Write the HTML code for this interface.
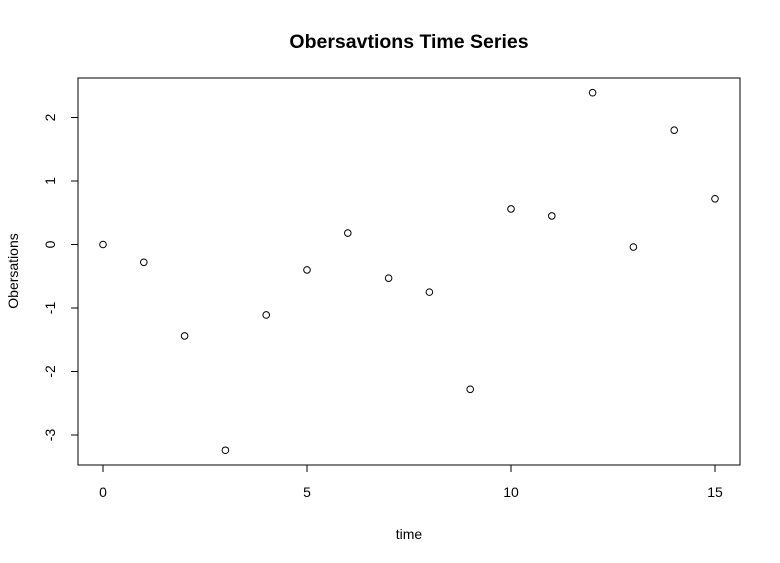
<!DOCTYPE html>
<html><head><meta charset="utf-8"><style>
body{margin:0;background:#fff;}
svg{display:block;font-family:"Liberation Sans",Arial,sans-serif;}
</style></head><body>
<svg id="chart" width="780" height="563">
<text x="409" y="48" text-anchor="middle" font-size="19.5" font-weight="bold">Obersavtions Time Series</text>
<rect x="78" y="78" width="662" height="387" fill="none" stroke="#000" stroke-width="1"/>
<text x="409" y="539" text-anchor="middle" font-size="14">time</text>
<text transform="translate(18,271) rotate(-90)" text-anchor="middle" font-size="14">Obersations</text>
<g id="xaxis"></g>
<g id="yaxis"></g>
<g id="points"></g>
</svg>
<script>
const times=[0,1,2,3,4,5,6,7,8,9,10,11,12,13,14,15];
const values=[0,-0.28,-1.44,-3.24,-1.11,-0.40,0.18,-0.53,-0.75,-2.28,0.56,0.45,2.39,-0.04,1.80,0.72];
const xTicks=[0,5,10,15];
const yTicks=[-3,-2,-1,0,1,2];
const NS="http://www.w3.org/2000/svg";
function xs(v){return 103+v*40.8;}
function ys(v){return 244.5-v*63.5;}
function mk(t,a){const e=document.createElementNS(NS,t);for(const k in a)e.setAttribute(k,a[k]);return e;}
const xg=document.getElementById('xaxis');
xg.appendChild(mk('line',{x1:xs(xTicks[0]),x2:xs(xTicks[xTicks.length-1]),y1:465,y2:465,stroke:'#000'}));
xTicks.forEach(t=>{
  const l=mk('line',{x1:xs(t),x2:xs(t),y1:465,y2:472,stroke:'#000'});
  
  
  xg.appendChild(l);
  const tx=mk('text',{x:xs(t),y:497,'text-anchor':'middle','font-size':14});
  tx.textContent=t;
  
  
  xg.appendChild(tx);
});
const yg=document.getElementById('yaxis');
yg.appendChild(mk('line',{x1:78,x2:78,y1:ys(yTicks[0]),y2:ys(yTicks[yTicks.length-1]),stroke:'#000'}));
yTicks.forEach(t=>{
  const l=mk('line',{x1:71,x2:78,y1:ys(t),y2:ys(t),stroke:'#000'});
  
  
  yg.appendChild(l);
  const tx=mk('text',{transform:`translate(55,${ys(t)}) rotate(-90)`,'text-anchor':'middle','font-size':14});
  tx.textContent=t;
  
  
  yg.appendChild(tx);
});
const pg=document.getElementById('points');
times.forEach((t,i)=>{
  const c=mk('circle',{cx:xs(t),cy:ys(values[i]),r:3.3,fill:'none',stroke:'#000','stroke-width':1});
  
  
  pg.appendChild(c);
});
</script>
</body></html>
